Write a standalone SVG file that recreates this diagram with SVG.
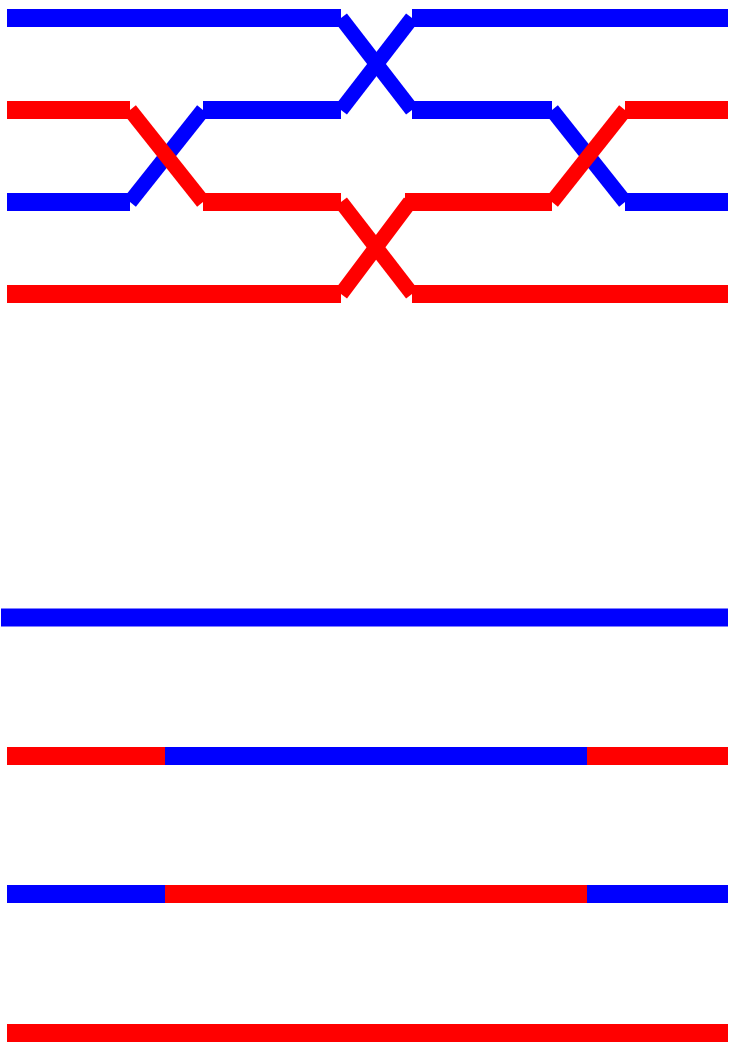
<svg xmlns="http://www.w3.org/2000/svg" width="732" height="1044" viewBox="0 0 732 1044">
<style>
.b{stroke:#0000FF;fill:none}
.r{stroke:#FF0000;fill:none}
.h{stroke-width:18;stroke-linecap:butt}
.d{stroke-width:15;stroke-linecap:butt}
</style>
<rect width="732" height="1044" fill="#fff"/>
<g id="braid">
<g id="strand-top-1">
<line class="b h" x1="7" y1="18" x2="341" y2="18"/>
<line class="b h" x1="412" y1="18" x2="728" y2="18"/>
</g>
<g id="strand-top-2">
<line class="r h" x1="7" y1="110" x2="130" y2="110"/>
<line class="b h" x1="203" y1="110" x2="341" y2="110"/>
<line class="b h" x1="412" y1="110" x2="552" y2="110"/>
<line class="r h" x1="625" y1="110" x2="728" y2="110"/>
</g>
<g id="strand-top-3">
<line class="b h" x1="7" y1="202" x2="130" y2="202"/>
<line class="r h" x1="203" y1="202" x2="341" y2="202"/>
<line class="r h" x1="405" y1="202" x2="552" y2="202"/>
<line class="b h" x1="625" y1="202" x2="728" y2="202"/>
</g>
<g id="strand-top-4">
<line class="r h" x1="7" y1="294" x2="341" y2="294"/>
<line class="r h" x1="412" y1="294" x2="728" y2="294"/>
</g>
<g id="crossings">
<line class="b d" x1="130" y1="202" x2="203" y2="110"/>
<line class="r d" x1="130" y1="110" x2="203" y2="202"/>
<line class="b d" x1="341" y1="18" x2="412" y2="110"/>
<line class="b d" x1="341" y1="110" x2="412" y2="18"/>
<line class="r d" x1="341" y1="202" x2="412" y2="294"/>
<line class="r d" x1="341" y1="294" x2="410" y2="202"/>
<line class="b d" x1="552" y1="110" x2="625" y2="202"/>
<line class="r d" x1="552" y1="202" x2="625" y2="110"/>
</g>
</g>
<g id="bars">
<g id="bar-1">
<line class="b h" x1="1" y1="617.5" x2="728" y2="617.5"/>
</g>
<g id="bar-2">
<line class="r h" x1="7" y1="756" x2="165" y2="756"/>
<line class="b h" x1="165" y1="756" x2="587" y2="756"/>
<line class="r h" x1="587" y1="756" x2="728" y2="756"/>
</g>
<g id="bar-3">
<line class="b h" x1="7" y1="894" x2="165" y2="894"/>
<line class="r h" x1="165" y1="894" x2="587" y2="894"/>
<line class="b h" x1="587" y1="894" x2="728" y2="894"/>
</g>
<g id="bar-4">
<line class="r h" x1="7" y1="1033" x2="728" y2="1033"/>
</g>
</g>
</svg>
